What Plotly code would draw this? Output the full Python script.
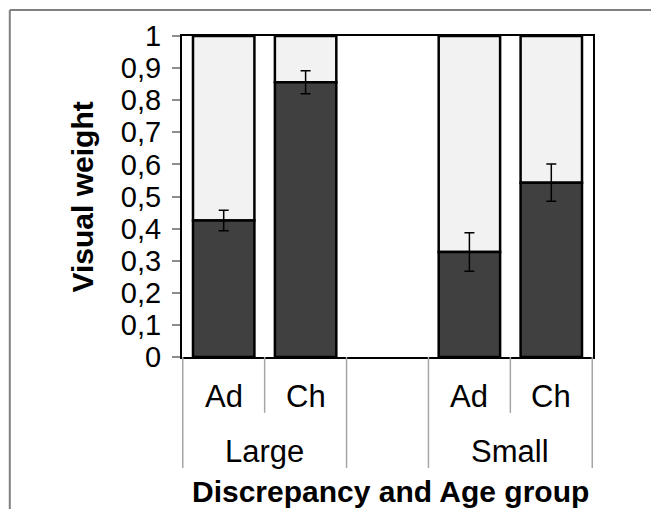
import plotly.graph_objects as go

# ---- data ----
groups = ["Large", "Large", "", "Small", "Small"]
ages = ["Ad", "Ch", "", "Ad", "Ch"]
slot_ids = ["Large Ad", "Large Ch", "gap", "Small Ad", "Small Ch"]
visual_weight = [0.425, 0.856, None, 0.327, 0.543]
error = [0.032, 0.036, None, 0.060, 0.058]
remainder = [None if v is None else round(1 - v, 3) for v in visual_weight]
y_tickvals = [0, 0.1, 0.2, 0.3, 0.4, 0.5, 0.6, 0.7, 0.8, 0.9, 1]
y_ticktext = ["0", "0,1", "0,2", "0,3", "0,4", "0,5", "0,6", "0,7", "0,8", "0,9", "1"]

FONT = "Arial, Liberation Sans, sans-serif"
DARK = "#404040"
LIGHT = "#f2f2f2"

fig = go.Figure()
fig.add_trace(go.Bar(
    x=slot_ids, y=remainder, base=visual_weight,
    marker=dict(color=LIGHT, line=dict(color="black", width=2.5)),
    showlegend=False, hoverinfo="skip",
))
fig.add_trace(go.Bar(
    x=slot_ids, y=visual_weight,
    marker=dict(color=DARK, line=dict(color="black", width=2.5)),
    error_y=dict(type="data", array=error, visible=True, color="black",
                 thickness=1.5, width=5),
    showlegend=False,
))

fig.update_layout(
    width=651, height=501,
    margin=dict(l=174, r=66, t=28, b=152),
    paper_bgcolor="white", plot_bgcolor="white",
    barmode="overlay", bargap=0.25,
    font=dict(family=FONT, size=29, color="black"),
)
fig.update_yaxes(
    range=[0, 1], tickvals=y_tickvals, ticktext=y_ticktext,
    showgrid=False, zeroline=False,
    showline=True, linecolor="black", linewidth=2, mirror=True,
    ticks="outside", ticklen=8, tickcolor="#8c8c8c", tickwidth=1.5,
    ticklabelstandoff=5,
    tickfont=dict(family=FONT, size=29, color="black"),
)
fig.update_xaxes(
    type="category", categoryorder="array", categoryarray=slot_ids,
    showticklabels=False, ticks="", showgrid=False, zeroline=False,
    showline=True, linecolor="black", linewidth=2, mirror=True,
)

# category labels (inner level)
for i, a in enumerate(ages):
    if a:
        fig.add_annotation(x=i, y=-0.122, xref="x", yref="paper", text=a,
                           showarrow=False, font=dict(family=FONT, size=31),
                           xanchor="center", yanchor="middle")

# outer level labels
outer = {}
for i, g in enumerate(groups):
    if g:
        outer.setdefault(g, []).append(i)
for g, idx in outer.items():
    fig.add_annotation(x=(idx[0] + idx[-1]) / 2, y=-0.294, xref="x", yref="paper",
                       text=g, showarrow=False, font=dict(family=FONT, size=31),
                       xanchor="center", yanchor="middle")

# dividers
div_color = "#a6a6a6"
full_bounds = [-0.5, 1.5, 2.5, 4.5]
short_bounds = [0.5, 3.5]
for b in full_bounds:
    fig.add_shape(type="line", xref="x", yref="paper", x0=b, x1=b, y0=0, y1=-0.346,
                  line=dict(color=div_color, width=1.5))
for b in short_bounds:
    fig.add_shape(type="line", xref="x", yref="paper", x0=b, x1=b, y0=0, y1=-0.174,
                  line=dict(color=div_color, width=1.5))

# axis titles
fig.add_annotation(x=-0.241, y=0.5, xref="paper", yref="paper", text="<b>Visual weight</b>",
                   textangle=-90, showarrow=False, font=dict(family=FONT, size=30),
                   xanchor="center", yanchor="middle")
fig.add_annotation(x=0.508, y=-0.42, xref="paper", yref="paper",
                   text="<b>Discrepancy and Age group</b>", showarrow=False,
                   font=dict(family=FONT, size=30), xanchor="center", yanchor="middle")

# outer chart border (top and left)
fig.add_shape(type="line", xref="paper", yref="paper", x0=-0.419, x1=1.2, y0=1.081, y1=1.081,
              line=dict(color="#808080", width=2))
fig.add_shape(type="line", xref="paper", yref="paper", x0=-0.419, x1=-0.419, y0=1.081, y1=-0.5,
              line=dict(color="#808080", width=2))

fig.write_html("out.html")
